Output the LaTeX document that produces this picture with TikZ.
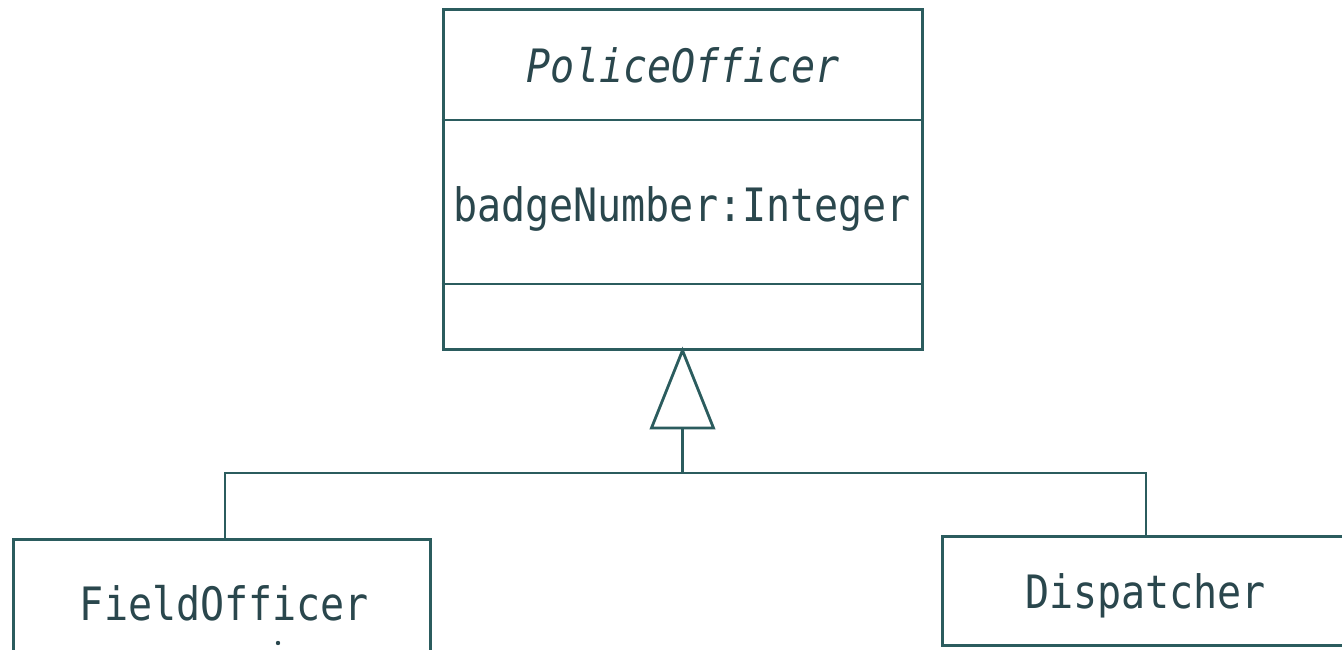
\documentclass[tikz,border=0pt]{standalone}
\usepackage{fontspec}
\newfontfamily\umlfont[FakeStretch=0.87]{DejaVu Sans Mono}
\definecolor{umlline}{HTML}{2B5C5E}
\definecolor{umltext}{HTML}{2A474D}
\begin{document}
\begin{tikzpicture}[x=1pt,y=-1pt,
  classbox/.style={draw=umlline, line width=3pt, fill=none, inner sep=0pt, rectangle},
  umltxt/.style={anchor=base, inner sep=0pt, text=umltext, font=\umlfont\fontsize{46}{50}\selectfont},
  conn/.style={draw=umlline, line width=2.8pt},
  gen/.style={draw=umlline, line width=2.8pt, fill=white, line join=miter}]
\useasboundingbox (0,0) rectangle (1342,650);
\clip (0,0) rectangle (1342,650);
\fill[white] (0,0) rectangle (1342,650);
% classes
\node[classbox, minimum width=479pt, minimum height=339pt] (po) at (682.5,179.5) {};
\draw[conn] (po.west |- 0,120) -- (po.east |- 0,120);
\draw[conn] (po.west |- 0,284) -- (po.east |- 0,284);
\node[umltxt] (poname) at (683.5,83) {\itshape PoliceOfficer};
\node[umltxt] (poattr) at (682,222) {badgeNumber:Integer};
\node[classbox, minimum width=417pt, minimum height=130pt] (fo) at (221.5,604) {};
\node[umltxt] (foname) at (224.5,620) {FieldOfficer};
\node[classbox, minimum width=408pt, minimum height=109pt] (di) at (1146,590.5) {};
\node[umltxt] (diname) at (1145.5,608) {Dispatcher};
\fill[umltext] (278,643) circle (2.2pt);
% generalization
\coordinate (apex) at (po.south);
\coordinate (tbase) at (682.5,428);
\coordinate (junc) at (682.5,473);
\coordinate (fotop) at ([xshift=3.5pt]fo.north);
\draw[gen] (apex) -- ([xshift=-31pt]tbase) -- ([xshift=31pt]tbase) -- cycle;
\draw[conn] (tbase) -- (junc);
\draw[conn] (fotop) |- (junc) -| (di.north);
\end{tikzpicture}
\end{document}
